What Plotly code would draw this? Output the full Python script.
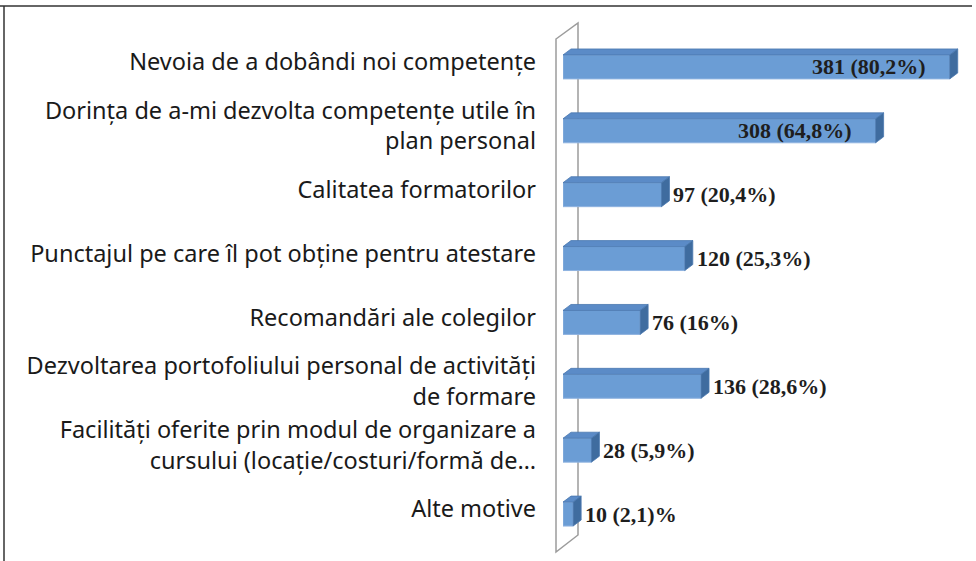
import plotly.graph_objects as go

# ---- data ----
categories = [
    "Nevoia de a dobândi noi competențe",
    "Dorința de a-mi dezvolta competențe utile în<br>plan personal",
    "Calitatea formatorilor",
    "Punctajul pe care îl pot obține pentru atestare",
    "Recomandări ale colegilor",
    "Dezvoltarea portofoliului personal de activități<br>de formare",
    "Facilități oferite prin modul de organizare a<br>cursului (locație/costuri/formă de…",
    "Alte motive",
]
counts = [381, 308, 97, 120, 76, 136, 28, 10]
value_labels = ["381 (80,2%)", "308 (64,8%)", "97 (20,4%)", "120 (25,3%)",
                "76 (16%)", "136 (28,6%)", "28 (5,9%)", "10 (2,1)%"]

# ---- layout constants ----
W, H = 976, 561
ML, MR, MT, MB = 563, 7, 30, 20
XMAX = 400
plot_w = W - ML - MR
plot_h = H - MT - MB
n = len(categories)
cat_px = plot_h / n
px_per_x = plot_w / XMAX
BAR_W = 0.375
SHIFT = 5 / cat_px
DEPTH_X, DEPTH_Y = 8, 6
dxu = DEPTH_X / px_per_x
dyu = DEPTH_Y / cat_px

FRONT = "#6b9dd5"
TOP = "#5b8bc7"
SIDE = "#3f6c9f"
EDGE = "#4a78b0"

ypos = list(range(n))

fig = go.Figure()
fig.add_trace(go.Bar(
    x=counts, y=ypos, orientation="h",
    width=BAR_W, offset=SHIFT - BAR_W / 2,
    marker=dict(color=FRONT, line=dict(color="#8fb3e0", width=1)),
    hoverinfo="skip",
))

def px2paper_x(px):
    return (px - ML) / plot_w

def px2paper_y(py):
    return 1 - (py - MT) / plot_h

shapes = []
# back wall (thin 3D wall behind the category axis)
wall = [(556, 39), (578, 23), (578, 535), (556, 552)]
path = "M " + " L ".join(f"{px2paper_x(a):.5f},{px2paper_y(b):.5f}" for a, b in wall) + " Z"
shapes.append(dict(type="path", xref="paper", yref="paper", path=path,
                   line=dict(color="#9c9c9c", width=1.5), fillcolor="white", layer="below"))

# 3D faces of the bars
for i, v in enumerate(counts):
    top = i + SHIFT - BAR_W / 2
    bot = i + SHIFT + BAR_W / 2
    tp = (f"M 0,{top} L {v},{top} L {v + dxu},{top - dyu} L {dxu},{top - dyu} Z")
    shapes.append(dict(type="path", xref="x", yref="y", path=tp,
                       fillcolor=TOP, line=dict(color=EDGE, width=0.8), layer="above"))
    sp = (f"M {v},{top} L {v},{bot} L {v + dxu},{bot - dyu} L {v + dxu},{top - dyu} Z")
    shapes.append(dict(type="path", xref="x", yref="y", path=sp,
                       fillcolor=SIDE, line=dict(color=EDGE, width=0.8), layer="above"))

# outer frame (top and left edges)
shapes.append(dict(type="line", xref="paper", yref="paper",
                   x0=px2paper_x(0), x1=px2paper_x(972), y0=px2paper_y(6), y1=px2paper_y(6),
                   line=dict(color="#333333", width=1.5)))
shapes.append(dict(type="line", xref="paper", yref="paper",
                   x0=px2paper_x(4), x1=px2paper_x(4), y0=px2paper_y(6), y1=px2paper_y(561),
                   line=dict(color="#333333", width=1.5)))

annotations = []
for i, (v, lab) in enumerate(zip(counts, value_labels)):
    inside = v > 250
    annotations.append(dict(
        x=v, y=i + SHIFT, xref="x", yref="y", text=lab, showarrow=False,
        xanchor="right" if inside else "left",
        xshift=-22 if inside else DEPTH_X + 2,
        font=dict(family="Liberation Serif", size=22, color="#1e1e1e", weight="bold"),
    ))

fig.update_layout(
    width=W, height=H,
    margin=dict(l=ML, r=MR, t=MT, b=MB, pad=0),
    paper_bgcolor="white", plot_bgcolor="rgba(0,0,0,0)",
    showlegend=False,
    shapes=shapes, annotations=annotations,
    xaxis=dict(range=[0, XMAX], visible=False, fixedrange=True),
    yaxis=dict(range=[n - 0.5, -0.5], tickmode="array", tickvals=ypos, ticktext=categories,
               showgrid=False, zeroline=False, showline=False, ticks="",
               ticklabelstandoff=26, fixedrange=True,
               tickfont=dict(family="Noto Sans", size=23.5, color="#1a1a1a")),
)

fig.write_html("out.html", config={"displayModeBar": False},
               post_script="document.body.style.margin='0';")
